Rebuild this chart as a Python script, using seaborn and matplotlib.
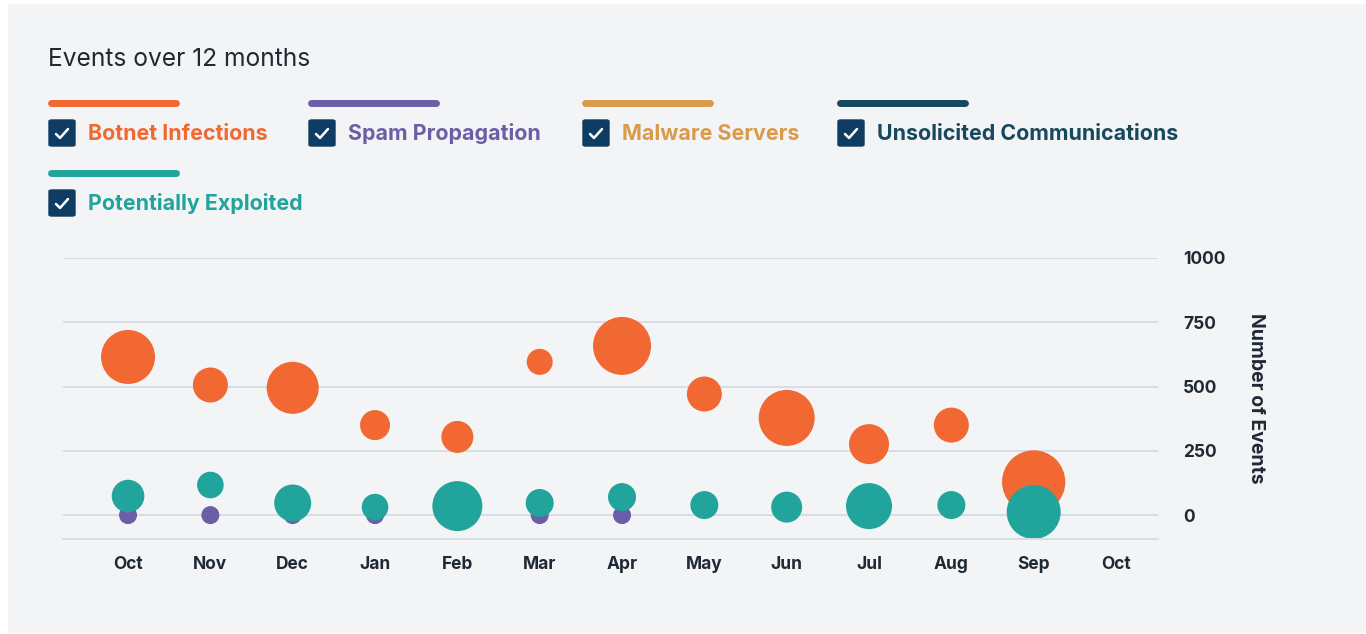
import matplotlib
matplotlib.use("Agg")
import matplotlib.pyplot as plt
import matplotlib.patches as mpatches
import pandas as pd
import seaborn as sns

# data
month_labels = ["Oct", "Nov", "Dec", "Jan", "Feb", "Mar", "Apr",
                "May", "Jun", "Jul", "Aug", "Sep", "Oct"]

botnet_months = [0, 1, 2, 3, 4, 5, 6, 7, 8, 9, 10, 11]
botnet_events = [615, 506, 495, 350, 304, 596, 658, 471, 378, 276, 350, 129]
botnet_weight = [729, 306, 676, 225, 256, 169, 841, 306, 784, 400, 306, 1260]

spam_months = [0, 1, 2, 3, 5, 6]
spam_events = [0, 0, 0, 0, 0, 0]
spam_weight = [81, 81, 81, 81, 81, 81]

exploited_months = [0, 1, 2, 3, 4, 5, 6, 7, 8, 9, 10, 11]
exploited_events = [74, 117, 47, 31, 35, 47, 70, 39, 31, 35, 39, 12]
exploited_weight = [266, 177, 342, 177, 625, 196, 196, 196, 240, 529, 196, 729]

series_names = ["Botnet Infections", "Spam Propagation", "Malware Servers",
                "Unsolicited Communications", "Potentially Exploited"]
series_colors = ["#f26832", "#6c5ea6", "#d99b4a", "#17485c", "#21a49c"]

W, H = 1366, 634
BG = "#f3f4f6"
TXT = "#1f2933"

frames = [
    pd.DataFrame({"month": botnet_months, "events": botnet_events,
                  "weight": botnet_weight, "series": series_names[0]}),
    pd.DataFrame({"month": spam_months, "events": spam_events,
                  "weight": spam_weight, "series": series_names[1]}),
    pd.DataFrame({"month": exploited_months, "events": exploited_events,
                  "weight": exploited_weight, "series": series_names[4]}),
]
df = pd.concat(frames, ignore_index=True)

sns.set_theme(style="white")
plt.rcParams["font.family"] = ["Inter", "DejaVu Sans"]


def fx(x):
    return x / W


def fy(y):
    return 1 - y / H


fig = plt.figure(figsize=(W / 100, H / 100), dpi=100, facecolor="white")
fig.patches.append(mpatches.Rectangle((fx(8), fy(632)), 1, fy(4) - fy(632),
                                      transform=fig.transFigure, color=BG, zorder=-5))

ax = fig.add_axes([fx(63), fy(539), fx(1158) - fx(63), fy(258) - fy(539)])
ax.set_facecolor("none")
ax.set_zorder(2)

sns.scatterplot(data=df, x="month", y="events", hue="series", size="weight",
                palette=dict(zip(series_names, series_colors)),
                sizes=(0, 2073.6), size_norm=(0, 1000),
                linewidth=0, alpha=1, legend=False, ax=ax, clip_on=False)

ax.set_xlim(-0.79, 12.51)
ax.set_ylim(-93, 1000)
ax.set_xticks(range(len(month_labels)))
ax.set_xticklabels(month_labels)
ax.set_yticks([0, 250, 500, 750, 1000])
ax.yaxis.tick_right()
ax.grid(axis="y", color="#d6dde5", linewidth=1.4)
ax.set_axisbelow(True)
for side in ["top", "left", "right"]:
    ax.spines[side].set_visible(False)
ax.spines["bottom"].set_color("#d6dde5")
ax.spines["bottom"].set_linewidth(1.4)
ax.tick_params(axis="both", length=0, labelsize=12.5, labelcolor=TXT)
ax.tick_params(axis="x", pad=12)
ax.tick_params(axis="y", pad=18)
for lbl in ax.get_xticklabels():
    lbl.set_fontweight("bold")
for lbl in ax.get_yticklabels():
    lbl.set_fontweight("bold")
    lbl.set_horizontalalignment("left")
ax.set_xlabel("")
ax.set_ylabel("")

fig.text(fx(1256), fy(398), "Number of Events", rotation=-90, ha="center",
         va="center", fontsize=14, fontweight="bold", color=TXT)

fig.text(fx(48), fy(60), "Events over 12 months", ha="left", va="center",
         fontsize=17.7, color=TXT)

# custom checkbox legend
legend_pos = [(48, 0), (308, 0), (582, 0), (837, 0), (48, 1)]
for name, color, (x0, row) in zip(series_names, series_colors, legend_pos):
    yb = 103 + row * 70
    fig.add_artist(plt.Line2D([fx(x0 + 3), fx(x0 + 128)], [fy(yb), fy(yb)],
                              transform=fig.transFigure, color=color,
                              linewidth=5, solid_capstyle="round"))
    cy = yb + 30
    box = mpatches.FancyBboxPatch((fx(x0 + 1), fy(cy + 13)), fx(26), fy(0) - fy(26),
                                  boxstyle="round,pad=0,rounding_size=0.002",
                                  transform=fig.transFigure, color="#0f3c63")
    fig.add_artist(box)
    fig.add_artist(plt.Line2D([fx(x0 + 8), fx(x0 + 12), fx(x0 + 20)],
                              [fy(cy + 1), fy(cy + 5), fy(cy - 4)],
                              transform=fig.transFigure, color="white",
                              linewidth=1.8, solid_capstyle="round",
                              solid_joinstyle="round"))
    fig.text(fx(x0 + 40), fy(cy + 1), name, ha="left", va="center",
             fontsize=15.4, fontweight="bold", color=color)

fig.savefig("out.png", dpi=100, facecolor="white")
